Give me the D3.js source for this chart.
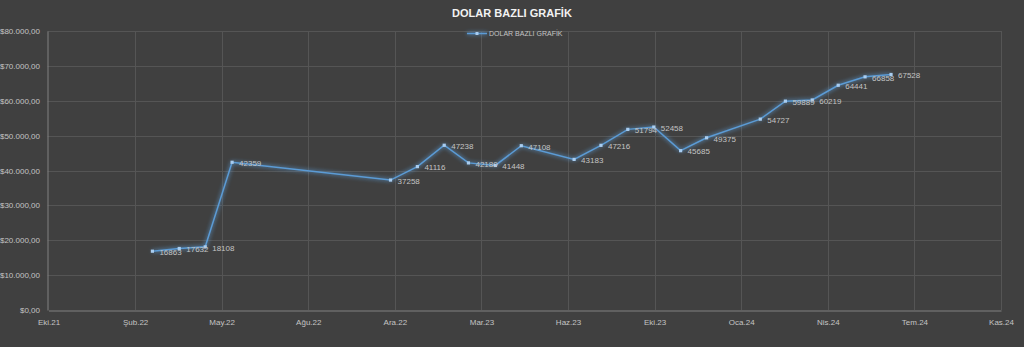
<!DOCTYPE html>
<html><head><meta charset="utf-8">
<script src="https://cdn.jsdelivr.net/npm/d3@7"></script>
<style>
html,body{margin:0;padding:0;background:#404040;}
svg{display:block;}
text{font-family:"Liberation Sans",Arial,sans-serif;}
</style></head>
<body>
<svg id="c" width="1024" height="347"></svg>
<script>
const dates = ["2022-02-28","2022-03-31","2022-04-30","2022-05-31","2022-11-30","2022-12-31","2023-01-31","2023-02-28","2023-03-31","2023-04-30","2023-06-30","2023-07-31","2023-08-31","2023-09-30","2023-10-31","2023-11-30","2024-01-31","2024-02-29","2024-03-31","2024-04-30","2024-05-31","2024-06-30"];
const values = [16863,17632,18108,42359,37258,41116,47238,42180,41448,47108,43183,47216,51794,52458,45685,49375,54727,59889,60219,64441,66858,67528];
const xTickDates = ["2021-10-31","2022-02-08","2022-05-19","2022-08-27","2022-12-05","2023-03-15","2023-06-23","2023-10-01","2024-01-09","2024-04-18","2024-07-27","2024-11-04"];
const xTickLabels = ["Eki.21","Şub.22","May.22","Ağu.22","Ara.22","Mar.23","Haz.23","Eki.23","Oca.24","Nis.24","Tem.24","Kas.24"];
const yTicks = [0,10000,20000,30000,40000,50000,60000,70000,80000];
const yTickLabels = ["$0,00","$10.000,00","$20.000,00","$30.000,00","$40.000,00","$50.000,00","$60.000,00","$70.000,00","$80.000,00"];
const title = "DOLAR BAZLI GRAFİK";
const seriesName = "DOLAR BAZLI GRAFİK";

const parse = d3.utcParse("%Y-%m-%d");
const data = dates.map((d,i)=>({date:parse(d), value:values[i]}));
const svg = d3.select("#c");
const L=47.5, R=1001, T=31, B=310;
const x = d3.scaleUtc().domain([parse(xTickDates[0]), parse(xTickDates[xTickDates.length-1])]).range([L+1,R]);
const y = d3.scaleLinear().domain([0,80000]).range([B,T]);

const defs = svg.append("defs");
const f = defs.append("filter").attr("id","glow").attr("filterUnits","userSpaceOnUse")
  .attr("x",0).attr("y",0).attr("width",1024).attr("height",347);
f.append("feGaussianBlur").attr("in","SourceGraphic").attr("stdDeviation",2.2).attr("result","b");
f.append("feComponentTransfer").attr("in","b").attr("result","b2")
  .append("feFuncA").attr("type","linear").attr("slope",1.2);
const m = f.append("feMerge");
m.append("feMergeNode").attr("in","b2");
m.append("feMergeNode").attr("in","SourceGraphic");

// grid
svg.append("g").selectAll("line").data(yTicks.slice(1)).join("line")
  .attr("x1",L).attr("x2",R).attr("y1",d=>Math.round(y(d))+0.5).attr("y2",d=>Math.round(y(d))+0.5)
  .attr("stroke","#555555").attr("stroke-width",1);
svg.append("g").selectAll("line").data(xTickDates.slice(1)).join("line")
  .attr("x1",d=>Math.round(x(parse(d)))+0.5).attr("x2",d=>Math.round(x(parse(d)))+0.5).attr("y1",T).attr("y2",B)
  .attr("stroke","#555555").attr("stroke-width",1);

// axes
const xAxis = d3.axisBottom(x).tickValues(xTickDates.map(parse)).tickSize(0).tickFormat((d,i)=>xTickLabels[i]);
const gx = svg.append("g").attr("transform",`translate(0,${B+0.5})`).call(xAxis);
gx.select(".domain").attr("stroke","#808080");
gx.selectAll("text").attr("fill","#c4c4c4").attr("font-size",8).attr("dy",0).attr("y",14);
const yAxis = d3.axisLeft(y).tickValues(yTicks).tickSize(0).tickFormat((d,i)=>yTickLabels[i]);
const gy = svg.append("g").attr("transform",`translate(${L},0)`).call(yAxis);
gy.select(".domain").attr("stroke","#808080");
gy.selectAll("text").attr("fill","#c4c4c4").attr("font-size",8).attr("x",-7.5);

// line
const line = d3.line().x(d=>x(d.date)).y(d=>y(d.value));
svg.append("path").datum(data).attr("d",line).attr("fill","none")
  .attr("stroke","#5b9bd5").attr("stroke-width",1.5).attr("filter","url(#glow)");
svg.append("g").selectAll("rect").data(data).join("rect")
  .attr("x",d=>x(d.date)-1.6).attr("y",d=>y(d.value)-1.6).attr("width",3.2).attr("height",3.2)
  .attr("fill","#a9cdf0");
svg.append("g").selectAll("text").data(data).join("text")
  .attr("x",d=>x(d.date)+7).attr("y",d=>y(d.value)+3.8)
  .attr("fill","#c4c4c4").attr("font-size",8).text(d=>d.value);

// title
svg.append("text").attr("x",512).attr("y",17).attr("text-anchor","middle")
  .attr("fill","#f2f2f2").attr("font-weight","bold").attr("font-size",11).text(title);
// legend
svg.append("line").attr("x1",467).attr("x2",487).attr("y1",33.5).attr("y2",33.5)
  .attr("stroke","#5b9bd5").attr("stroke-width",1.5).attr("filter","url(#glow)");
svg.append("rect").attr("x",475.5).attr("y",32).attr("width",3).attr("height",3).attr("fill","#a9cdf0");
svg.append("text").attr("x",489).attr("y",36).attr("fill","#c4c4c4").attr("font-size",7).text(seriesName);
</script>
</body></html>
